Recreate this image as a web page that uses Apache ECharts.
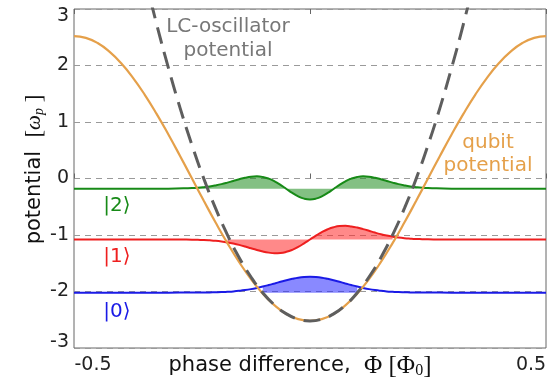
<!DOCTYPE html>
<html>
<head>
<meta charset="utf-8">
<script src="https://cdn.jsdelivr.net/npm/echarts@6/dist/echarts.min.js"></script>
<style>
html,body{margin:0;padding:0;background:#fff;}
#chart{width:550px;height:381px;}
</style>
</head>
<body>
<div id="chart"></div>
<script>
// ---- data ----
const xTicks = [-0.5, 0, 0.5];
const yTicks = [-3, -2, -1, 0, 1, 2, 3];

// qubit (cosine) potential
const qubitX = [-0.5,-0.475,-0.45,-0.425,-0.4,-0.375,-0.35,-0.325,-0.3,-0.275,-0.25,-0.225,-0.2,-0.175,-0.15,-0.125,-0.1,-0.075,-0.05,-0.025,0,
                0.025,0.05,0.075,0.1,0.125,0.15,0.175,0.2,0.225,0.25,0.275,0.3,0.325,0.35,0.375,0.4,0.425,0.45,0.475,0.5];
const qubitY = [2.52,2.489,2.397,2.245,2.039,1.782,1.481,1.144,0.779,0.394,0,-0.394,-0.779,-1.144,-1.481,-1.782,-2.039,-2.245,-2.397,-2.489,-2.52,
                -2.489,-2.397,-2.245,-2.039,-1.782,-1.481,-1.144,-0.779,-0.394,0,0.394,0.779,1.144,1.481,1.782,2.039,2.245,2.397,2.489,2.52];

// LC-oscillator (parabolic) potential
const lcX = [-0.35,-0.325,-0.3,-0.275,-0.25,-0.225,-0.2,-0.175,-0.15,-0.125,-0.1,-0.075,-0.05,-0.025,0,
             0.025,0.05,0.075,0.1,0.125,0.15,0.175,0.2,0.225,0.25,0.275,0.3,0.325,0.35];
const lcY = [3.573,2.734,1.957,1.242,0.589,-0.002,-0.530,-0.997,-1.401,-1.743,-2.023,-2.240,-2.396,-2.489,-2.52,
             -2.489,-2.396,-2.240,-2.023,-1.743,-1.401,-0.997,-0.530,-0.002,0.589,1.242,1.957,2.734,3.573];

// wavefunctions
const waveX = [-0.5,-0.3,-0.25,-0.2375,-0.225,-0.2125,-0.2,-0.1875,-0.175,-0.1625,-0.15,-0.1375,-0.125,-0.1125,-0.1,-0.0875,-0.075,-0.0625,-0.05,-0.0375,-0.025,-0.0125,0,
               0.0125,0.025,0.0375,0.05,0.0625,0.075,0.0875,0.1,0.1125,0.125,0.1375,0.15,0.1625,0.175,0.1875,0.2,0.2125,0.225,0.2375,0.25,0.3,0.5];
const psi0 = [-2.02,-2.02,-2.019,-2.019,-2.018,-2.016,-2.014,-2.011,-2.005,-1.998,-1.988,-1.975,-1.958,-1.937,-1.913,-1.886,-1.857,-1.828,-1.800,-1.776,-1.756,-1.744,-1.740,
              -1.744,-1.756,-1.776,-1.800,-1.828,-1.857,-1.886,-1.913,-1.937,-1.958,-1.975,-1.988,-1.998,-2.005,-2.011,-2.014,-2.016,-2.018,-2.019,-2.019,-2.02,-2.02];
const psi1 = [-1.08,-1.08,-1.083,-1.086,-1.089,-1.095,-1.103,-1.115,-1.131,-1.151,-1.175,-1.203,-1.234,-1.264,-1.292,-1.312,-1.322,-1.318,-1.298,-1.262,-1.211,-1.148,-1.080,
              -1.012,-0.949,-0.898,-0.862,-0.842,-0.838,-0.848,-0.868,-0.896,-0.926,-0.957,-0.985,-1.009,-1.029,-1.045,-1.057,-1.065,-1.071,-1.074,-1.077,-1.08,-1.08];
const psi2 = [-0.18,-0.18,-0.169,-0.163,-0.153,-0.140,-0.122,-0.100,-0.073,-0.043,-0.013,0.013,0.032,0.038,0.027,-0.003,-0.051,-0.114,-0.185,-0.256,-0.316,-0.356,-0.370,
              -0.356,-0.316,-0.256,-0.185,-0.114,-0.051,-0.003,0.027,0.038,0.032,0.013,-0.013,-0.043,-0.073,-0.100,-0.122,-0.140,-0.153,-0.163,-0.169,-0.18,-0.18];

// energy levels and half-width of the shaded (classically allowed) region
const levels = [-2.02, -1.08, -0.18];
const fillHalf = [0.1, 0.175, 0.2375];
const stateLabels = ['|0\u27E9', '|1\u27E9', '|2\u27E9'];

// ---- styling ----
const waveColors = ['#1a1ae6', '#ee1f1f', '#178a17'];
const fillColors = ['rgba(40,40,255,0.55)', 'rgba(255,40,40,0.55)', 'rgba(30,140,30,0.55)'];
const orange = '#e5a04a';
const lcGray = '#5e5e5e';

function pairs(xs, ys) { return xs.map((x, i) => [x, ys[i]]); }
function fillPairs(xs, ys, half) { return pairs(xs, ys).filter(p => Math.abs(p[0]) <= half + 1e-9); }

const waves = [psi0, psi1, psi2];
const series = [];
waves.forEach((w, i) => {
  series.push({
    type: 'line', data: fillPairs(waveX, w, fillHalf[i]), smooth: true, symbol: 'none',
    lineStyle: { width: 0, opacity: 0 },
    areaStyle: { color: fillColors[i], origin: levels[i], opacity: 1 },
    z: 1, silent: true
  });
});
waves.forEach((w, i) => {
  series.push({
    type: 'line', data: pairs(waveX, w), smooth: true, symbol: 'none',
    lineStyle: { width: 2, color: waveColors[i] }, z: 2, silent: true
  });
});
series.push({
  type: 'line', data: pairs(qubitX, qubitY), smooth: true, symbol: 'none',
  lineStyle: { width: 2.2, color: orange }, z: 3, silent: true
});
series.push({
  type: 'line', data: pairs(lcX, lcY), smooth: true, symbol: 'none',
  lineStyle: { width: 3, color: lcGray, type: [17, 9] }, z: 4, silent: true
});

const tickFont = { fontFamily: 'DejaVu Sans', fontSize: 19, color: '#222' };
const txt = (text, x, y, fill) => ({ type: 'text', x: x, y: y, silent: true,
  style: { text: text, align: 'center', verticalAlign: 'middle', font: '20px "DejaVu Sans"', fill: fill } });

const option = {
  animation: false,
  backgroundColor: '#fff',
  grid: { left: 74, right: 4, top: 9, bottom: 33, containLabel: false, outerBoundsMode: 'none',
          show: true, borderColor: '#666', borderWidth: 1, backgroundColor: 'transparent' },
  xAxis: [{
    type: 'value', min: xTicks[0], max: xTicks[xTicks.length - 1], interval: 0.5,
    axisLine: { show: false },
    axisTick: { show: true, inside: true, length: 5, lineStyle: { color: '#666' } },
    splitLine: { show: false },
    axisLabel: {
      margin: 8, ...tickFont,
      formatter: v => v === xTicks[0] ? '{l|' + v + '}' : (v === xTicks[2] ? '{r|' + v + '}' : ''),
      rich: {
        l: { ...tickFont, padding: [0, 0, 0, 38] },
        r: { ...tickFont, padding: [0, 30, 0, 0] }
      }
    },
    name: '{t|phase difference,  }{s|\u03A6 [\u03A6}{sub|0}{s|]}',
    nameLocation: 'middle', nameGap: 5, nameMoveOverlap: false,
    nameTextStyle: {
      padding: [0, 20, 0, 0],
      rich: {
        t: { fontFamily: 'DejaVu Sans', fontSize: 21, color: '#111' },
        s: { fontFamily: 'Liberation Serif', fontSize: 25, color: '#111' },
        sub: { fontFamily: 'Liberation Serif', fontSize: 16, color: '#111', padding: [10, 0, 0, 0] }
      }
    }
  }, {
    type: 'value', position: 'top', min: xTicks[0], max: xTicks[xTicks.length - 1], interval: 0.5,
    axisLine: { show: false },
    axisTick: { show: true, inside: true, length: 5, lineStyle: { color: '#666' } },
    axisLabel: { show: false }, splitLine: { show: false }
  }],
  yAxis: {
    type: 'value', min: yTicks[0], max: yTicks[yTicks.length - 1], interval: 1,
    axisLine: { show: false }, axisTick: { show: false },
    splitLine: { show: true, lineStyle: { color: '#9a9a9a', width: 1, type: [6, 5] } },
    axisLabel: {
      margin: 5, ...tickFont,
      formatter: v => v === yTicks[yTicks.length - 1] ? '{t|' + v + '}' : (v === yTicks[0] ? '{b|' + v + '}' : '{n|' + v + '}'),
      rich: {
        t: { ...tickFont, padding: [14, 0, 0, 0] },
        b: { ...tickFont, padding: [0, 0, 12, 0] },
        n: { ...tickFont }
      }
    },
    name: '{t|potential  }{s|[}{w|\u03C9}{sub|p}{s| ]}',
    nameLocation: 'middle', nameGap: 28, nameRotate: 90, nameMoveOverlap: false,
    nameTextStyle: {
      padding: [0, 0, 0, 18],
      rich: {
        t: { fontFamily: 'DejaVu Sans', fontSize: 21, color: '#111' },
        s: { fontFamily: 'Liberation Serif', fontSize: 23, color: '#111' },
        w: { fontFamily: 'Liberation Serif', fontStyle: 'italic', fontSize: 21, color: '#111' },
        sub: { fontFamily: 'Liberation Serif', fontStyle: 'italic', fontSize: 14, color: '#111', padding: [9, 0, 0, 0] }
      }
    }
  },
  series: series,
  graphic: [
    txt('LC-oscillator', 228, 27, '#777'),
    txt('potential', 228, 51, '#777'),
    txt('qubit', 488, 143, orange),
    txt('potential', 488, 166, orange),
    txt(stateLabels[0], 117, 312, waveColors[0]),
    txt(stateLabels[1], 117, 257, waveColors[1]),
    txt(stateLabels[2], 117, 206, waveColors[2])
  ]
};

const chart = echarts.init(document.getElementById('chart'), null, { renderer: 'canvas' });
chart.setOption(option);
</script>
</body>
</html>
